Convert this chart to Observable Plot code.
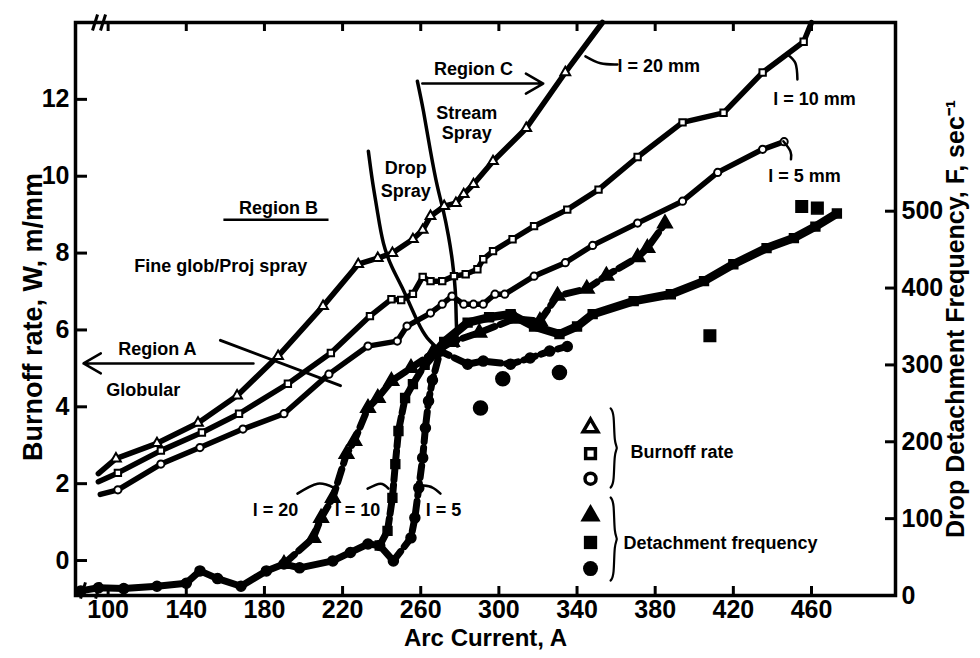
<!DOCTYPE html>
<html><head><meta charset="utf-8">
<script src="https://cdn.jsdelivr.net/npm/d3@7"></script>
<script src="https://cdn.jsdelivr.net/npm/@observablehq/plot@0.6"></script>
<style>
html,body{margin:0;padding:0;background:#fff;}
#chart{width:980px;height:658px;overflow:hidden;}
</style></head><body><div id="chart"></div>
<script>
// ---- axis ticks ----
const xTicks = [100,140,180,220,260,300,340,380,420,460];
const wTicks = [0,2,4,6,8,10,12];
const fTicks = [0,100,200,300,400,500];

// ---- Burnoff rate W (m/mm) vs arc current A ----
const A20 = [95,104,125,146,166,187,210,228,238,245.5,256,261,265,272,278,282,287,297,314,334,353];
const W20 = [2.26,2.65,3.05,3.58,4.29,5.32,6.62,7.71,7.87,8.0,8.36,8.6,8.96,9.22,9.3,9.53,9.79,10.39,11.25,12.7,14.0];
const A10 = [95,105,127,148,167,192,214,234,245,250,256,261,265,271,277,283,289,292,297,307,318,335,351,371,394,415,435,456,460];
const W10 = [2.05,2.28,2.86,3.33,3.82,4.6,5.4,6.36,6.8,6.78,6.94,7.38,7.27,7.27,7.4,7.45,7.58,7.84,8.05,8.36,8.7,9.13,9.65,10.5,11.4,11.65,12.7,13.5,14.0];
const A5 = [96,105,127,147,169,190,213,233,248,253,265,271,276,282,287,292,298,303,318,334,348,371,394,412,435,446];
const W5 = [1.72,1.84,2.51,2.94,3.42,3.82,4.85,5.58,5.71,6.1,6.44,6.67,6.88,6.67,6.67,6.67,6.93,6.93,7.4,7.75,8.2,8.78,9.35,10.1,10.7,10.9];

// ---- Drop detachment frequency F (1/s) vs arc current A ----
const Af20 = [190,205,209,215,222,226,233,238,245,255,266,276,290,308,321,330,345,355,371,376,385];
const Ff20 = [41,75,101,127,184,201,244,257,279,296,315,330,342,360,357,390,399,416,440,452,484];
const Af10 = [239,243,245.5,247,248.6,252,256,262,272,284,295,306,318,331,340,348,369,388,405,420,437,451,462,473];
const Ff10 = [65,84,127,171,214,257,275,300,330,355,362,366,350,340,350,366,383,392,409,431,452,465,480,497];
const Af5 = [86,95,108,125,140,147,156,168,181,190,198,215,224,233,239,246,255,257,259,261,262.4,264,266,270,284,292,306,316,326,335];
const Ff5 = [6,10,9,12,16,32,22,12,32,41,36,45,56,67,65,45,75,101,140,179,218,253,280,318,301,305,301,309,318,324];
const isoCircA = [290.6,302,331];
const isoCircF = [244,282,290];
const isoSqA = [408,455,463];
const isoSqF = [338,506,504];

// ---- annotations ----
const dropA = [233.2,235.3,237.8,240.9,245.5,250.6,258.3,263.4,270.1];
const dropW = [10.65,9.87,9.09,8.26,7.61,7.09,6.23,5.79,5.45];
const streamA = [258.3,261.4,265,268.5,271.6,274.2,276.2,277.7,278.2,278.8];
const streamW = [12.47,11.69,10.65,9.74,9.09,8.44,7.79,7.01,6.23,5.58];
const regADiagA = [157.5,218.9];
const regADiagW = [5.73,4.55];
const lead20mmA = [344.3,352,360.7], lead20mmW = [13.12,12.94,12.91];
const lead10mmA = [447.7,451.8,452.8], lead10mmW = [13.17,12.94,12.52];
const lead5mmA = [445.6,449.2,449.5], lead5mmW = [10.91,10.65,10.44];
const lead20A = [196.9,207.2,215.4], lead20W = [1.74,2.0,1.9];
const lead10A = [232.8,239.4,243.5], lead10W = [1.87,2.0,1.87];
const lead5A = [261.4,266.0,270.1], lead5W = [1.95,1.9,1.74];

const annText = ["Region C","Stream","Spray","Drop","Spray","Region B","Fine glob/Proj spray","Region A","Globular","l = 20","l = 10","l = 5"];
const annA = [287,283.5,283.5,252.3,252.3,187.2,157.6,125.2,118,185.7,227.6,271.6];
const annW = [12.78,11.64,11.12,10.2,9.6,9.17,7.66,5.51,4.42,1.3,1.3,1.3];
const curveText = ["l = 20 mm","l = 10 mm","l = 5 mm","Burnoff rate","Detachment frequency"];
const curveA = [360.7,440.4,437.9,367.4,363.8];
const curveW = [12.86,12.0,10.0,2.81,0.44];

const legendA = 346.9;
const legendOpenW = [3.46,2.78,2.13];
const legendFillW = [1.17,0.47,-0.21];
const braceA = 359;
const braceTopW = [3.96,1.9];
const braceBotW = [1.64,-0.52];

// ---- helpers ----
const fToW = f => f / 50 - 0.91;
const zip = (xs, ys) => xs.map((x, i) => ({x, y: ys[i]}));
const zipF = (xs, fs) => xs.map((x, i) => ({x, y: fToW(fs[i])}));
const brace = (x, top, bot) => {
  const mid = (top + bot) / 2;
  return [[x - 1.8, top], [x, top - 0.12], [x, mid + 0.12], [x + 2, mid], [x, mid - 0.12], [x, bot + 0.12], [x - 1.8, bot]]
    .map(([a, b]) => ({x: a, y: b}));
};

const b20 = zip(A20, W20), b10 = zip(A10, W10), b5 = zip(A5, W5);
const f20 = zipF(Af20, Ff20), f10 = zipF(Af10, Ff10), f5 = zipF(Af5, Ff5);
const ann = annText.map((t, i) => ({t, x: annA[i], y: annW[i]}));
const cann = curveText.map((t, i) => ({t, x: curveA[i], y: curveW[i]}));

const FONT = "'Liberation Sans', Arial, Helvetica, sans-serif";
const innerH = 658 - 22 - 63, innerW = 980 - 75 - 85;

const openDot = (data, symbol) => Plot.dot(data, {x: "x", y: "y", symbol, r: 3.6, fill: "white", stroke: "black", strokeWidth: 2});
const fillDot = (data, symbol, r = 5.5) => Plot.dot(data, {x: "x", y: "y", symbol, r, fill: "black", stroke: "black"});
const annLine = (xs, ys, w = 3, curve = "natural") => Plot.line(zip(xs, ys), {x: "x", y: "y", stroke: "black", strokeWidth: w, curve});

const chart = Plot.plot({
  width: 980, height: 658,
  marginLeft: 75, marginRight: 85, marginTop: 22, marginBottom: 63,
  x: {domain: [83.3, 503], label: null},
  y: {domain: [-0.91, 14], label: null},
  style: {fontFamily: FONT, fontWeight: "bold", fontSize: "25px", background: "white", color: "black", overflow: "visible"},
  marks: [
    // axes (labels) and inward ticks
    Plot.axisX({ticks: xTicks, tickSize: 0, tickPadding: 5, label: null, fontSize: 25, fontWeight: "bold"}),
    Plot.axisY({anchor: "left", ticks: wTicks, tickSize: 0, tickPadding: 6, label: null, fontSize: 25, fontWeight: "bold"}),
    Plot.axisY({anchor: "right", ticks: fTicks.map(fToW), tickFormat: d => String(Math.round((d + 0.91) * 50)),
      tickSize: 0, tickPadding: 6, label: null, fontSize: 25, fontWeight: "bold"}),
    Plot.tickX(xTicks, {x: d => d, insetTop: innerH - 9, strokeWidth: 3}),
    Plot.tickX(xTicks, {x: d => d, insetBottom: innerH - 9, strokeWidth: 3}),
    Plot.tickY(wTicks, {y: d => d, insetRight: innerW - 12, strokeWidth: 3}),
    Plot.tickY(fTicks.map(fToW), {y: d => d, insetLeft: innerW - 10, strokeWidth: 3}),
    Plot.frame({stroke: "black", strokeWidth: 3.5}),
    // axis break marks
    Plot.link([{x1: 92, y1: 13.79, x2: 94.6, y2: 14.21}, {x1: 96.1, y1: 13.79, x2: 98.7, y2: 14.21},
               {x1: 85.9, y1: -0.99, x2: 88.4, y2: -0.57}, {x1: 93.6, y1: -0.99, x2: 96.1, y2: -0.57}],
      {x1: "x1", y1: "y1", x2: "x2", y2: "y2", stroke: "black", strokeWidth: 3}),

    // region annotations
    annLine(dropA, dropW, 3.5),
    annLine(streamA, streamW, 3.5),
    annLine(regADiagA, regADiagW, 3, "linear"),
    Plot.arrow([{x1: 174.4, y1: 5.13, x2: 87.4, y2: 5.13}], {x1: "x1", y1: "y1", x2: "x2", y2: "y2", strokeWidth: 2.5, headLength: 12}),
    Plot.arrow([{x1: 260.8, y1: 12.41, x2: 322.7, y2: 12.41}], {x1: "x1", y1: "y1", x2: "x2", y2: "y2", strokeWidth: 2.5, headLength: 12}),
    Plot.link([{x1: 159, y1: 8.87, x2: 212.8, y2: 8.87}], {x1: "x1", y1: "y1", x2: "x2", y2: "y2", strokeWidth: 2.5}),

    // burnoff rate curves (open symbols)
    Plot.line(b20, {x: "x", y: "y", strokeWidth: 5.5, stroke: "black"}),
    Plot.line(b10, {x: "x", y: "y", strokeWidth: 5.5, stroke: "black"}),
    Plot.line(b5, {x: "x", y: "y", strokeWidth: 5.5, stroke: "black"}),
    openDot(b20.slice(1, -1), "triangle"),
    openDot(b10.slice(1, -1), "square"),
    openDot(b5.slice(1), "circle"),

    // detachment frequency curves (filled symbols)
    Plot.line(f5.filter(d => d.x <= 246), {x: "x", y: "y", strokeWidth: 7, stroke: "black", strokeLinecap: "round"}),
    Plot.line(f5.filter(d => d.x >= 246), {x: "x", y: "y", strokeWidth: 7, stroke: "black", strokeDasharray: "12,6", strokeLinecap: "round"}),
    Plot.line(f20, {x: "x", y: "y", strokeWidth: 7, stroke: "black", strokeDasharray: "14,6", strokeLinecap: "round"}),
    Plot.line(f10.filter(d => d.x <= 262), {x: "x", y: "y", strokeWidth: 7, stroke: "black", strokeDasharray: "12,5", strokeLinecap: "round"}),
    Plot.line(f10.filter(d => d.x >= 262), {x: "x", y: "y", strokeWidth: 8.5, stroke: "black", strokeLinecap: "round"}),
    fillDot(f20, "triangle", 5.5),
    fillDot(f10, "square", 5),
    fillDot(f5, "circle", 5),
    fillDot(zipF(isoCircA, isoCircF), "circle", 7),
    fillDot(zipF(isoSqA, isoSqF), "square", 6.5),

    // curve leaders
    annLine(lead20mmA, lead20mmW, 2.5),
    annLine(lead10mmA, lead10mmW, 2.5),
    annLine(lead5mmA, lead5mmW, 2.5),
    annLine(lead20A, lead20W, 2.5),
    annLine(lead10A, lead10W, 2.5),
    annLine(lead5A, lead5W, 2.5),

    // text annotations
    Plot.text(ann, {x: "x", y: "y", text: "t", fontSize: 18, fontWeight: "bold", textAnchor: "middle", lineAnchor: "middle", fill: "black"}),
    Plot.text(cann, {x: "x", y: "y", text: "t", fontSize: 18, fontWeight: "bold", textAnchor: "start", lineAnchor: "middle", fill: "black"}),

    // legend
    Plot.dot(legendOpenW, {x: () => legendA, y: d => d, symbol: ["triangle","square","circle"], r: 5.5, fill: "white", stroke: "black", strokeWidth: 3.5}),
    Plot.dot(legendFillW, {x: () => legendA, y: d => d, symbol: ["triangle","square","circle"], r: 7.5, fill: "black"}),
    Plot.line(brace(braceA, braceTopW[0], braceTopW[1]), {x: "x", y: "y", strokeWidth: 2.2, curve: "basis"}),
    Plot.line(brace(braceA, braceBotW[0], braceBotW[1]), {x: "x", y: "y", strokeWidth: 2.2, curve: "basis"}),

    // axis titles
    Plot.text(["Arc Current, A"], {frameAnchor: "bottom", dy: 43, fontSize: 24, fontWeight: "bold", textAnchor: "middle", lineAnchor: "middle"}),
    Plot.text(["Burnoff rate, W, m/mm"], {frameAnchor: "left", dx: -42, dy: 8, rotate: -90, fontSize: 27, fontWeight: "bold", textAnchor: "middle", lineAnchor: "middle"}),
    Plot.text(["Drop Detachment Frequency, F, sec\u207B\u00B9"], {frameAnchor: "right", dx: 60, dy: 10, rotate: -90, fontSize: 25, fontWeight: "bold", textAnchor: "middle", lineAnchor: "middle"})
  ]
});
document.getElementById("chart").appendChild(chart);
</script></body></html>
